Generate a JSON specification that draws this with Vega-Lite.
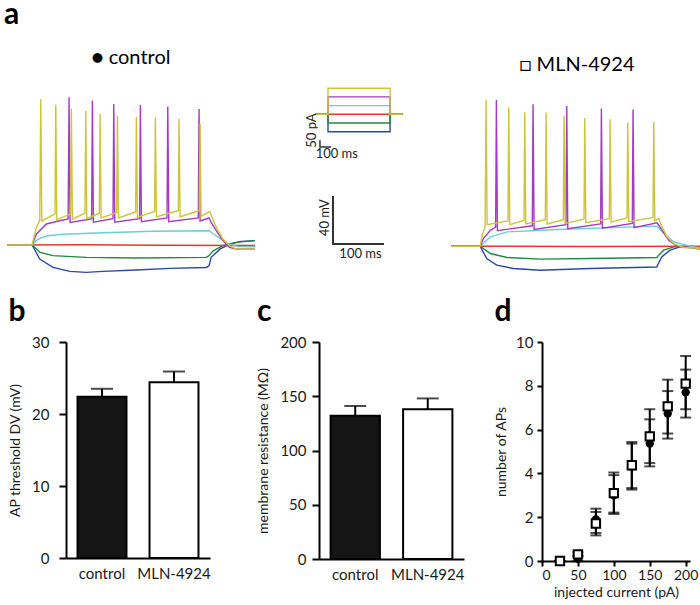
{
  "$schema": "https://vega.github.io/schema/vega-lite/v6.json",
  "padding": {"left": 4, "top": 0, "right": 0, "bottom": 0},
  "background": "white",
  "spacing": 16,
  "title": {"text": "a", "anchor": "start", "frame": "bounds", "fontSize": 30, "fontWeight": "bold", "offset": 18, "dx": -3},
  "config": {
    "view": {"stroke": null},
    "font": "Lato",
    "title": {"font": "Lato", "color": "black"},
    "text": {"font": "Lato"},
    "axis": {"domainColor": "black", "domainWidth": 2, "tickColor": "black", "tickWidth": 2, "tickSize": 7, "labelColor": "#1a1a1a", "titleColor": "#1a1a1a", "grid": false, "labelFont": "Lato", "titleFont": "Lato", "labelFontSize": 15, "titleFontSize": 14, "titleFontWeight": "normal"}
  },
  "datasets": {
    "control": [
      {"sweep":1,"t":-49,"mV":-65},{"sweep":1,"t":0,"mV":-65},{"sweep":1,"t":15,"mV":-76.7},{"sweep":1,"t":41,"mV":-83.7},{"sweep":1,"t":74,"mV":-87},{"sweep":1,"t":106,"mV":-87.8},{"sweep":1,"t":139,"mV":-87},{"sweep":1,"t":204,"mV":-85.8},{"sweep":1,"t":270,"mV":-84.5},{"sweep":1,"t":341,"mV":-83.7},{"sweep":1,"t":347,"mV":-82.3},{"sweep":1,"t":351,"mV":-75.3},{"sweep":1,"t":369,"mV":-68.3},{"sweep":1,"t":388,"mV":-64.2},{"sweep":1,"t":410,"mV":-62},{"sweep":1,"t":437,"mV":-61.4},
      {"sweep":2,"t":-49,"mV":-65},{"sweep":2,"t":0,"mV":-65},{"sweep":2,"t":16,"mV":-71.2},{"sweep":2,"t":41,"mV":-73.9},{"sweep":2,"t":106,"mV":-75.3},{"sweep":2,"t":204,"mV":-75.8},{"sweep":2,"t":341,"mV":-75.3},{"sweep":2,"t":347,"mV":-73.9},{"sweep":2,"t":355,"mV":-69.8},{"sweep":2,"t":374,"mV":-65.6},{"sweep":2,"t":400,"mV":-62.8},{"sweep":2,"t":437,"mV":-61.4},
      {"sweep":3,"t":-49,"mV":-65},{"sweep":3,"t":100,"mV":-64.8},{"sweep":3,"t":250,"mV":-65.2},{"sweep":3,"t":437,"mV":-65.4},
      {"sweep":4,"t":-49,"mV":-65},{"sweep":4,"t":0,"mV":-65},{"sweep":4,"t":8,"mV":-61.4},{"sweep":4,"t":18,"mV":-58.9},{"sweep":4,"t":31,"mV":-57.3},{"sweep":4,"t":61,"mV":-56},{"sweep":4,"t":139,"mV":-54.8},{"sweep":4,"t":237,"mV":-53.5},{"sweep":4,"t":347,"mV":-53.1},{"sweep":4,"t":355,"mV":-55.6},{"sweep":4,"t":369,"mV":-59.7},{"sweep":4,"t":384,"mV":-63.9},{"sweep":4,"t":404,"mV":-66.4},{"sweep":4,"t":437,"mV":-66.5},
      {"sweep":5,"t":-49,"mV":-65},{"sweep":5,"t":0,"mV":-65},{"sweep":5,"t":8.5,"mV":-55.8},{"sweep":5,"t":28,"mV":-47.5},{"sweep":5,"t":54,"mV":-44.8},{"sweep":5,"t":70.6,"mV":-43.3},{"sweep":5,"t":72.5,"mV":58},{"sweep":5,"t":74.5,"mV":-46.2},{"sweep":5,"t":116.7,"mV":-43.3},{"sweep":5,"t":118.2,"mV":55.3},{"sweep":5,"t":120.2,"mV":-46},{"sweep":5,"t":158.6,"mV":-43},{"sweep":5,"t":160.1,"mV":52.5},{"sweep":5,"t":162.1,"mV":-46},{"sweep":5,"t":210.8,"mV":-43},{"sweep":5,"t":212.3,"mV":51.7},{"sweep":5,"t":214.3,"mV":-45.5},{"sweep":5,"t":264.5,"mV":-42.5},{"sweep":5,"t":266,"mV":50.3},{"sweep":5,"t":268,"mV":-45.5},{"sweep":5,"t":325.8,"mV":-42.5},{"sweep":5,"t":327.3,"mV":48.3},{"sweep":5,"t":329.3,"mV":-45},{"sweep":5,"t":347,"mV":-42.5},{"sweep":5,"t":351,"mV":-46.2},{"sweep":5,"t":361,"mV":-53.1},{"sweep":5,"t":374,"mV":-61.4},{"sweep":5,"t":387,"mV":-67},{"sweep":5,"t":400,"mV":-68.3},{"sweep":5,"t":437,"mV":-68.3},
      {"sweep":6,"t":-49,"mV":-65},{"sweep":6,"t":0,"mV":-65},{"sweep":6,"t":8.5,"mV":-50.3},{"sweep":6,"t":15,"mV":-44.8},{"sweep":6,"t":17,"mV":56.7},{"sweep":6,"t":19,"mV":-45},{"sweep":6,"t":44.9,"mV":-39},{"sweep":6,"t":46.4,"mV":51.9},{"sweep":6,"t":48.4,"mV":-44},{"sweep":6,"t":75.5,"mV":-39},{"sweep":6,"t":77,"mV":48.8},{"sweep":6,"t":79,"mV":-43.5},{"sweep":6,"t":103.7,"mV":-38.5},{"sweep":6,"t":105.2,"mV":46.9},{"sweep":6,"t":107.2,"mV":-43},{"sweep":6,"t":131.8,"mV":-38.5},{"sweep":6,"t":133.3,"mV":44.2},{"sweep":6,"t":135.3,"mV":-42.5},{"sweep":6,"t":165.8,"mV":-38},{"sweep":6,"t":167.3,"mV":42.8},{"sweep":6,"t":169.3,"mV":-42.5},{"sweep":6,"t":203,"mV":-37.5},{"sweep":6,"t":204.5,"mV":41.9},{"sweep":6,"t":206.5,"mV":-42},{"sweep":6,"t":240.2,"mV":-37},{"sweep":6,"t":241.7,"mV":40.8},{"sweep":6,"t":243.7,"mV":-41.5},{"sweep":6,"t":286.6,"mV":-36.5},{"sweep":6,"t":288.1,"mV":40},{"sweep":6,"t":290.1,"mV":-41.5},{"sweep":6,"t":327.8,"mV":-36.5},{"sweep":6,"t":329.3,"mV":36.3},{"sweep":6,"t":331.3,"mV":-41},{"sweep":6,"t":348,"mV":-37},{"sweep":6,"t":361,"mV":-50.3},{"sweep":6,"t":374,"mV":-60},{"sweep":6,"t":387,"mV":-65.6},{"sweep":6,"t":400,"mV":-68.3},{"sweep":6,"t":437,"mV":-68.3}
    ],
    "mln": [
      {"sweep":1,"t":-57,"mV":-66},{"sweep":1,"t":0,"mV":-66},{"sweep":1,"t":13,"mV":-76.3},{"sweep":1,"t":32.7,"mV":-81.8},{"sweep":1,"t":65.3,"mV":-84.6},{"sweep":1,"t":117.6,"mV":-86},{"sweep":1,"t":215.6,"mV":-84.6},{"sweep":1,"t":346.3,"mV":-83.3},{"sweep":1,"t":349.6,"mV":-80.4},{"sweep":1,"t":356.1,"mV":-74.9},{"sweep":1,"t":372.5,"mV":-69.3},{"sweep":1,"t":392.1,"mV":-66.6},{"sweep":1,"t":437,"mV":-66.6},
      {"sweep":2,"t":-57,"mV":-66},{"sweep":2,"t":0,"mV":-66},{"sweep":2,"t":20.3,"mV":-72.1},{"sweep":2,"t":52.9,"mV":-75.4},{"sweep":2,"t":118.2,"mV":-76.8},{"sweep":2,"t":216.2,"mV":-76.3},{"sweep":2,"t":346.9,"mV":-75.4},{"sweep":2,"t":350.2,"mV":-73.5},{"sweep":2,"t":360,"mV":-69.3},{"sweep":2,"t":379.6,"mV":-66.6},{"sweep":2,"t":412.3,"mV":-66},{"sweep":2,"t":437,"mV":-67.1},
      {"sweep":3,"t":-57,"mV":-66},{"sweep":3,"t":200,"mV":-66.2},{"sweep":3,"t":437,"mV":-66},
      {"sweep":4,"t":-57,"mV":-66},{"sweep":4,"t":0,"mV":-66},{"sweep":4,"t":20.3,"mV":-58.2},{"sweep":4,"t":52.9,"mV":-54.1},{"sweep":4,"t":150.9,"mV":-52.1},{"sweep":4,"t":346.9,"mV":-49.3},{"sweep":4,"t":360,"mV":-55.4},{"sweep":4,"t":379.6,"mV":-62.4},{"sweep":4,"t":412.3,"mV":-66},{"sweep":4,"t":437,"mV":-67.9},
      {"sweep":5,"t":-57,"mV":-66},{"sweep":5,"t":0,"mV":-66},{"sweep":5,"t":6.5,"mV":-59.6},{"sweep":5,"t":20.3,"mV":-52.7},{"sweep":5,"t":30.5,"mV":-50},{"sweep":5,"t":32,"mV":55.7},{"sweep":5,"t":34,"mV":-53},{"sweep":5,"t":102.4,"mV":-49},{"sweep":5,"t":103.9,"mV":52.3},{"sweep":5,"t":105.9,"mV":-52},{"sweep":5,"t":168.4,"mV":-48},{"sweep":5,"t":169.9,"mV":50.7},{"sweep":5,"t":171.9,"mV":-51.5},{"sweep":5,"t":236.3,"mV":-47.5},{"sweep":5,"t":237.8,"mV":48.8},{"sweep":5,"t":239.8,"mV":-51},{"sweep":5,"t":298.4,"mV":-47},{"sweep":5,"t":299.9,"mV":47.9},{"sweep":5,"t":301.9,"mV":-50.5},{"sweep":5,"t":347,"mV":-46.5},{"sweep":5,"t":356.7,"mV":-52.7},{"sweep":5,"t":369.8,"mV":-61},{"sweep":5,"t":386,"mV":-66},{"sweep":5,"t":437,"mV":-68.8},
      {"sweep":6,"t":-57,"mV":-66},{"sweep":6,"t":0,"mV":-66},{"sweep":6,"t":5.2,"mV":-55.4},{"sweep":6,"t":9.8,"mV":-49.9},{"sweep":6,"t":11.8,"mV":55.7},{"sweep":6,"t":13.8,"mV":-48},{"sweep":6,"t":54.7,"mV":-45},{"sweep":6,"t":56.2,"mV":49.6},{"sweep":6,"t":58.2,"mV":-48},{"sweep":6,"t":86.1,"mV":-44.5},{"sweep":6,"t":87.6,"mV":45.9},{"sweep":6,"t":89.6,"mV":-47.5},{"sweep":6,"t":127.9,"mV":-44},{"sweep":6,"t":129.4,"mV":45.4},{"sweep":6,"t":131.4,"mV":-47.5},{"sweep":6,"t":163.1,"mV":-44},{"sweep":6,"t":164.6,"mV":42.6},{"sweep":6,"t":166.6,"mV":-47},{"sweep":6,"t":203.7,"mV":-43.5},{"sweep":6,"t":205.2,"mV":40.9},{"sweep":6,"t":207.2,"mV":-46.5},{"sweep":6,"t":253.3,"mV":-43},{"sweep":6,"t":254.8,"mV":39.8},{"sweep":6,"t":256.8,"mV":-46},{"sweep":6,"t":288,"mV":-42.5},{"sweep":6,"t":289.5,"mV":37.1},{"sweep":6,"t":291.5,"mV":-45.5},{"sweep":6,"t":339,"mV":-42},{"sweep":6,"t":340.5,"mV":37.6},{"sweep":6,"t":342.5,"mV":-45},{"sweep":6,"t":350,"mV":-43},{"sweep":6,"t":356.7,"mV":-49.9},{"sweep":6,"t":366.5,"mV":-58.2},{"sweep":6,"t":379.6,"mV":-63.8},{"sweep":6,"t":399,"mV":-67.1},{"sweep":6,"t":437,"mV":-67.9}
    ],
    "steps": [
      {"sweep":1,"i":0,"t":-118,"pA":0},{"sweep":1,"i":1,"t":0,"pA":0},{"sweep":1,"i":2,"t":0,"pA":-130},{"sweep":1,"i":3,"t":564,"pA":-130},{"sweep":1,"i":4,"t":564,"pA":0},{"sweep":1,"i":5,"t":677,"pA":0},
      {"sweep":2,"i":0,"t":-118,"pA":0},{"sweep":2,"i":1,"t":0,"pA":0},{"sweep":2,"i":2,"t":0,"pA":-65},{"sweep":2,"i":3,"t":564,"pA":-65},{"sweep":2,"i":4,"t":564,"pA":0},{"sweep":2,"i":5,"t":677,"pA":0},
      {"sweep":3,"i":0,"t":-118,"pA":0},{"sweep":3,"i":1,"t":677,"pA":0},
      {"sweep":4,"i":0,"t":-118,"pA":0},{"sweep":4,"i":1,"t":0,"pA":0},{"sweep":4,"i":2,"t":0,"pA":65},{"sweep":4,"i":3,"t":564,"pA":65},{"sweep":4,"i":4,"t":564,"pA":0},{"sweep":4,"i":5,"t":677,"pA":0},
      {"sweep":5,"i":0,"t":-118,"pA":0},{"sweep":5,"i":1,"t":0,"pA":0},{"sweep":5,"i":2,"t":0,"pA":130},{"sweep":5,"i":3,"t":564,"pA":130},{"sweep":5,"i":4,"t":564,"pA":0},{"sweep":5,"i":5,"t":677,"pA":0},
      {"sweep":6,"i":0,"t":-118,"pA":0},{"sweep":6,"i":1,"t":0,"pA":0},{"sweep":6,"i":2,"t":0,"pA":195},{"sweep":6,"i":3,"t":564,"pA":195},{"sweep":6,"i":4,"t":564,"pA":0},{"sweep":6,"i":5,"t":677,"pA":0}
    ],
    "aps": [
      {"current":25,"group":"control","mean":0,"lo":0,"hi":0},
      {"current":50,"group":"control","mean":0.1,"lo":0,"hi":0.25},
      {"current":75,"group":"control","mean":1.9,"lo":1.17,"hi":2.39},
      {"current":100,"group":"control","mean":3.0,"lo":2.15,"hi":3.92},
      {"current":125,"group":"control","mean":4.3,"lo":3.26,"hi":5.36},
      {"current":150,"group":"control","mean":5.36,"lo":4.32,"hi":6.47},
      {"current":175,"group":"control","mean":6.73,"lo":5.59,"hi":7.76},
      {"current":200,"group":"control","mean":7.7,"lo":6.55,"hi":8.74},
      {"current":25,"group":"MLN-4924","mean":0,"lo":0,"hi":0},
      {"current":50,"group":"MLN-4924","mean":0.3,"lo":0.2,"hi":0.4},
      {"current":75,"group":"MLN-4924","mean":1.71,"lo":1.28,"hi":2.24},
      {"current":100,"group":"MLN-4924","mean":3.1,"lo":2.21,"hi":4.04},
      {"current":125,"group":"MLN-4924","mean":4.37,"lo":3.33,"hi":5.43},
      {"current":150,"group":"MLN-4924","mean":5.69,"lo":4.47,"hi":6.93},
      {"current":175,"group":"MLN-4924","mean":7.06,"lo":5.82,"hi":8.28},
      {"current":200,"group":"MLN-4924","mean":8.1,"lo":6.93,"hi":9.36}
    ]
  },
  "vconcat": [
    {
      "spacing": 45.5,
      "hconcat": [
        {
          "width": 248, "height": 196,
          "title": {"text": "● control", "fontSize": 20, "fontWeight": "normal", "offset": 1, "baseline": "alphabetic"},
          "data": {"name": "control"},
          "mark": {"type": "line", "strokeWidth": 1.4, "clip": true},
          "encoding": {
            "x": {"field": "t", "type": "quantitative", "scale": {"domain": [-49.2, 437], "nice": false, "zero": false}, "axis": null},
            "y": {"field": "mV", "type": "quantitative", "scale": {"domain": [-95, 68.3], "nice": false, "zero": false}, "axis": null},
            "color": {"field": "sweep", "type": "nominal", "scale": {"domain": [1,2,3,4,5,6], "range": ["#2a48a8", "#1e8a3e", "#e2382f", "#66d0d6", "#a23cc0", "#cdc43a"]}, "legend": null}
          }
        },
        {
          "width": 102, "height": 196,
          "resolve": {"scale": {"x": "independent", "y": "independent"}},
          "layer": [
            {
              "layer": [
                {
                  "data": {"name": "steps"},
                  "mark": {"type": "line", "strokeWidth": 1.4},
                  "encoding": {
                    "x": {"field": "t", "type": "quantitative", "scale": {"domain": [-250, 677], "nice": false, "zero": false}, "axis": null},
                    "y": {"field": "pA", "type": "quantitative", "scale": {"domain": [-1244, 218.7], "nice": false, "zero": false}, "axis": null},
                    "order": {"field": "i"},
                    "color": {"field": "sweep", "type": "nominal", "scale": {"domain": [1,2,3,4,5,6], "range": ["#2a48a8", "#1e8a3e", "#e2382f", "#66d0d6", "#a23cc0", "#cdc43a"]}, "legend": null}
                  }
                },
                {
                  "data": {"values": [{"i":0,"t":-73,"pA":-194},{"i":1,"t":-73,"pA":-244},{"i":2,"t":27,"pA":-244}]},
                  "mark": {"type": "line", "strokeWidth": 1.5, "color": "#333333"},
                  "encoding": {"x": {"field": "t", "type": "quantitative", "axis": null}, "y": {"field": "pA", "type": "quantitative", "axis": null}, "order": {"field": "i"}}
                },
                {
                  "data": {"values": [{"t":-141,"pA":-121,"label":"50 pA"}]},
                  "mark": {"type": "text", "angle": 270, "fontSize": 13, "color": "#222222", "baseline": "middle", "align": "center"},
                  "encoding": {"x": {"field": "t", "type": "quantitative", "axis": null}, "y": {"field": "pA", "type": "quantitative", "axis": null}, "text": {"field": "label"}}
                },
                {
                  "data": {"values": [{"t":80,"pA":-298,"label":"100 ms"}]},
                  "mark": {"type": "text", "fontSize": 13, "color": "#222222", "baseline": "middle", "align": "center"},
                  "encoding": {"x": {"field": "t", "type": "quantitative", "axis": null}, "y": {"field": "pA", "type": "quantitative", "axis": null}, "text": {"field": "label"}}
                }
              ]
            },
            {
              "layer": [
                {
                  "data": {"values": [{"i":0,"t":0,"mV":40},{"i":1,"t":0,"mV":0},{"i":2,"t":100,"mV":0}]},
                  "mark": {"type": "line", "strokeWidth": 2, "color": "#333333"},
                  "encoding": {
                    "x": {"field": "t", "type": "quantitative", "scale": {"domain": [-63.7, 136.3], "nice": false, "zero": false}, "axis": null},
                    "y": {"field": "mV", "type": "quantitative", "scale": {"domain": [-30.8, 132.5], "nice": false, "zero": false}, "axis": null},
                    "order": {"field": "i"}
                  }
                },
                {
                  "data": {"values": [{"t":-14.7,"mV":22,"label":"40 mV"}]},
                  "mark": {"type": "text", "angle": 270, "fontSize": 13, "color": "#222222", "baseline": "middle", "align": "center"},
                  "encoding": {"x": {"field": "t", "type": "quantitative", "axis": null}, "y": {"field": "mV", "type": "quantitative", "axis": null}, "text": {"field": "label"}}
                },
                {
                  "data": {"values": [{"t":53.9,"mV":-7.9,"label":"100 ms"}]},
                  "mark": {"type": "text", "fontSize": 13, "color": "#222222", "baseline": "middle", "align": "center"},
                  "encoding": {"x": {"field": "t", "type": "quantitative", "axis": null}, "y": {"field": "mV", "type": "quantitative", "axis": null}, "text": {"field": "label"}}
                }
              ]
            }
          ]
        },
        {
          "width": 252, "height": 196,
          "title": {"text": "□ MLN-4924", "fontSize": 20, "fontWeight": "normal", "offset": -6, "baseline": "alphabetic"},
          "data": {"name": "mln"},
          "mark": {"type": "line", "strokeWidth": 1.4, "clip": true},
          "encoding": {
            "x": {"field": "t", "type": "quantitative", "scale": {"domain": [-57, 437], "nice": false, "zero": false}, "axis": null},
            "y": {"field": "mV", "type": "quantitative", "scale": {"domain": [-95, 68.3], "nice": false, "zero": false}, "axis": null},
            "color": {"field": "sweep", "type": "nominal", "scale": {"domain": [1,2,3,4,5,6], "range": ["#2a48a8", "#1e8a3e", "#e2382f", "#66d0d6", "#a23cc0", "#cdc43a"]}, "legend": null}
          }
        }
      ]
    },
    {
      "spacing": 45,
      "hconcat": [
        {
          "spacing": 0,
          "hconcat": [
            {"width": 1, "height": 216, "data": {"values": []}, "mark": "point"},
            {
              "width": 144, "height": 216,
              "title": {"text": "b", "anchor": "start", "frame": "bounds", "fontSize": 30, "fontWeight": "bold", "offset": 8},
              "data": {"values": [{"group":"control","value":22.4,"upper":23.5},{"group":"MLN-4924","value":24.4,"upper":25.9}]},
              "encoding": {
                "x": {"field": "group", "type": "nominal", "sort": null, "scale": {"paddingInner": 0.32, "paddingOuter": 0.16}, "axis": {"title": null, "labelAngle": 0, "ticks": false, "labelPadding": 8}}
              },
              "layer": [
                {
                  "mark": {"type": "bar", "stroke": "black", "strokeWidth": 2},
                  "encoding": {
                    "y": {"field": "value", "type": "quantitative", "scale": {"domain": [0, 30], "nice": false}, "axis": {"values": [0, 10, 20, 30], "title": "AP threshold DV (mV)", "labelPadding": 10, "titlePadding": 9}},
                    "fill": {"field": "group", "type": "nominal", "scale": {"domain": ["control", "MLN-4924"], "range": ["#151515", "white"]}, "legend": null}
                  }
                },
                {"mark": {"type": "rule", "strokeWidth": 2, "color": "black"}, "encoding": {"y": {"field": "value", "type": "quantitative"}, "y2": {"field": "upper"}}},
                {"mark": {"type": "tick", "orient": "horizontal", "thickness": 2, "size": 22, "color": "black"}, "encoding": {"y": {"field": "upper", "type": "quantitative"}}}
              ]
            }
          ]
        },
        {
          "spacing": 30,
          "hconcat": [
            {
              "width": 145, "height": 217,
              "title": {"text": "c", "anchor": "start", "frame": "bounds", "fontSize": 30, "fontWeight": "bold", "offset": 8},
              "data": {"values": [{"group":"control","value":132,"upper":141},{"group":"MLN-4924","value":138,"upper":148}]},
              "encoding": {
                "x": {"field": "group", "type": "nominal", "sort": null, "scale": {"paddingInner": 0.32, "paddingOuter": 0.16}, "axis": {"title": null, "labelAngle": 0, "ticks": false, "labelPadding": 8}}
              },
              "layer": [
                {
                  "mark": {"type": "bar", "stroke": "black", "strokeWidth": 2},
                  "encoding": {
                    "y": {"field": "value", "type": "quantitative", "scale": {"domain": [0, 200], "nice": false}, "axis": {"values": [0, 50, 100, 150, 200], "title": "membrane resistance (MΩ)", "labelPadding": 6, "titlePadding": 9}},
                    "fill": {"field": "group", "type": "nominal", "scale": {"domain": ["control", "MLN-4924"], "range": ["#151515", "white"]}, "legend": null}
                  }
                },
                {"mark": {"type": "rule", "strokeWidth": 2, "color": "black"}, "encoding": {"y": {"field": "value", "type": "quantitative"}, "y2": {"field": "upper"}}},
                {"mark": {"type": "tick", "orient": "horizontal", "thickness": 2, "size": 22, "color": "black"}, "encoding": {"y": {"field": "upper", "type": "quantitative"}}}
              ]
            },
            {
              "width": 148, "height": 219,
              "title": {"text": "d", "anchor": "start", "frame": "bounds", "fontSize": 30, "fontWeight": "bold", "offset": 8},
              "data": {"name": "aps"},
              "encoding": {
                "x": {"field": "current", "type": "quantitative", "scale": {"domain": [0, 206], "nice": false}, "axis": {"values": [0, 50, 100, 150, 200], "title": "injected current (pA)", "tickSize": 5, "labelPadding": 2, "titlePadding": 3, "labelFontSize": 14}}
              },
              "layer": [
                {
                  "mark": {"type": "rule", "strokeWidth": 2, "color": "black"},
                  "encoding": {
                    "y": {"field": "lo", "type": "quantitative", "scale": {"domain": [0, 10], "nice": false}, "axis": {"values": [0, 2, 4, 6, 8, 10], "title": "number of APs", "tickSize": 5, "labelPadding": 4, "titlePadding": 7}},
                    "y2": {"field": "hi"}
                  }
                },
                {"mark": {"type": "tick", "orient": "horizontal", "thickness": 2, "size": 11, "color": "black"}, "encoding": {"y": {"field": "lo", "type": "quantitative"}}},
                {"mark": {"type": "tick", "orient": "horizontal", "thickness": 2, "size": 11, "color": "black"}, "encoding": {"y": {"field": "hi", "type": "quantitative"}}},
                {
                  "transform": [{"filter": "datum.group === 'control'"}],
                  "mark": {"type": "point", "shape": "circle", "filled": true, "color": "black", "size": 70, "opacity": 1},
                  "encoding": {"y": {"field": "mean", "type": "quantitative"}}
                },
                {
                  "transform": [{"filter": "datum.group === 'MLN-4924'"}],
                  "mark": {"type": "point", "shape": "square", "filled": true, "fill": "white", "stroke": "black", "strokeWidth": 2, "size": 70, "opacity": 1},
                  "encoding": {"y": {"field": "mean", "type": "quantitative"}}
                }
              ]
            }
          ]
        }
      ]
    }
  ]
}
